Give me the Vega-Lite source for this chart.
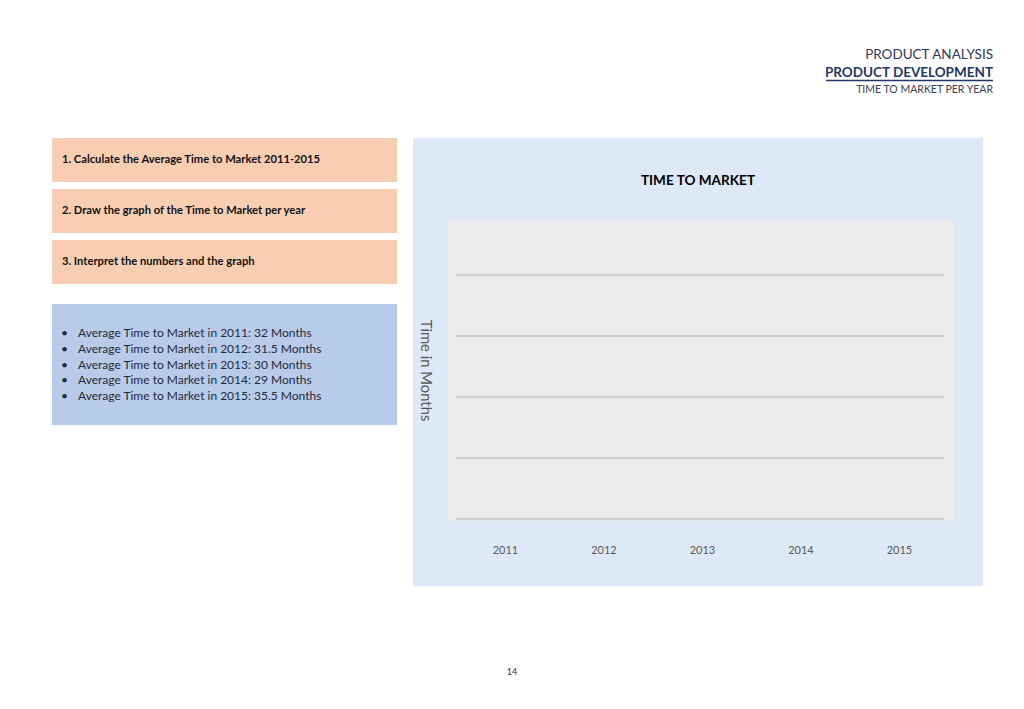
{
  "$schema": "https://vega.github.io/schema/vega-lite/v6.json",
  "background": "white",
  "padding": {"left": 52, "top": 35, "right": 10, "bottom": 5},
  "config": {"view": {"stroke": null}, "font": "Lato"},
  "datasets": {
    "header": [
      {"level": 1, "line": "PRODUCT ANALYSIS"},
      {"level": 2, "line": "PRODUCT DEVELOPMENT"},
      {"level": 3, "line": "TIME TO MARKET PER YEAR"}
    ],
    "tasks": [
      {"task": "1. Calculate the Average Time to Market 2011-2015"},
      {"task": "2. Draw the graph of the Time to Market per year"},
      {"task": "3. Interpret the numbers and the graph"}
    ],
    "ttm": [
      {"year": 2011, "months": 32, "label": "Average Time to Market in 2011: 32 Months"},
      {"year": 2012, "months": 31.5, "label": "Average Time to Market in 2012: 31.5 Months"},
      {"year": 2013, "months": 30, "label": "Average Time to Market in 2013: 30 Months"},
      {"year": 2014, "months": 29, "label": "Average Time to Market in 2014: 29 Months"},
      {"year": 2015, "months": 35.5, "label": "Average Time to Market in 2015: 35.5 Months"}
    ],
    "gridlines": [{"tick": 0}, {"tick": 10}, {"tick": 20}, {"tick": 30}, {"tick": 40}],
    "page": [{"page": "14"}],
    "frame": [{"part": "plot background"}]
  },
  "spacing": 31,
  "vconcat": [
    {
      "width": 941,
      "height": 72,
      "data": {"name": "header"},
      "layer": [
        {
          "transform": [{"filter": "datum.level == 1"}],
          "mark": {"type": "text", "align": "right", "baseline": "middle", "fontSize": 13.5, "color": "#2f3a56"},
          "encoding": {
            "x": {"datum": 941, "type": "quantitative", "scale": {"domain": [0, 941], "nice": false}, "axis": null},
            "y": {"datum": 19.5, "type": "quantitative", "scale": {"domain": [0, 72], "nice": false, "reverse": true}, "axis": null},
            "text": {"field": "line"}
          }
        },
        {
          "transform": [{"filter": "datum.level == 2"}],
          "mark": {"type": "text", "align": "right", "baseline": "middle", "fontSize": 13.5, "fontWeight": "bold", "color": "#1f3864"},
          "encoding": {
            "x": {"datum": 941, "type": "quantitative"},
            "y": {"datum": 38, "type": "quantitative"},
            "text": {"field": "line"}
          }
        },
        {
          "transform": [{"filter": "datum.level == 2"}],
          "mark": {"type": "rule", "color": "#1f3864", "strokeWidth": 1.5},
          "encoding": {
            "x": {"datum": 774, "type": "quantitative"},
            "x2": {"datum": 941},
            "y": {"datum": 45.5, "type": "quantitative"}
          }
        },
        {
          "transform": [{"filter": "datum.level == 3"}],
          "mark": {"type": "text", "align": "right", "baseline": "middle", "fontSize": 10.5, "color": "#3a4255"},
          "encoding": {
            "x": {"datum": 941, "type": "quantitative"},
            "y": {"datum": 55, "type": "quantitative"},
            "text": {"field": "line"}
          }
        }
      ]
    },
    {
      "spacing": 16,
      "hconcat": [
        {
          "spacing": 20,
          "vconcat": [
            {
              "width": 345,
              "height": 146,
              "data": {"name": "tasks"},
              "encoding": {
                "y": {"field": "task", "type": "nominal", "sort": null, "scale": {"paddingInner": 0.137, "paddingOuter": 0}, "axis": null}
              },
              "layer": [
                {
                  "mark": {"type": "bar", "color": "#f8ceb2"},
                  "encoding": {
                    "x": {"datum": 0, "type": "quantitative", "scale": {"domain": [0, 1], "nice": false}, "axis": null},
                    "x2": {"datum": 1}
                  }
                },
                {
                  "mark": {"type": "text", "align": "left", "baseline": "middle", "dx": 10, "fontSize": 11.2, "fontWeight": "bold", "color": "#111111"},
                  "encoding": {
                    "x": {"datum": 0, "type": "quantitative"},
                    "text": {"field": "task"}
                  }
                }
              ]
            },
            {
              "width": 345,
              "height": 121,
              "view": {"fill": "#b9cbea", "stroke": null},
              "data": {"name": "ttm"},
              "encoding": {
                "y": {"field": "year", "type": "quantitative", "scale": {"domain": [2009.159, 2016.841], "nice": false, "zero": false, "reverse": true}, "axis": null},
                "x": {"datum": 0, "type": "quantitative", "scale": {"domain": [0, 1], "nice": false}, "axis": null}
              },
              "layer": [
                {
                  "mark": {"type": "text", "align": "left", "baseline": "middle", "dx": 9, "fontSize": 12, "color": "#222a38"},
                  "encoding": {"text": {"value": "•"}}
                },
                {
                  "mark": {"type": "text", "align": "left", "baseline": "middle", "dx": 26, "fontSize": 12, "color": "#222a38"},
                  "encoding": {"text": {"field": "label"}}
                }
              ]
            }
          ]
        },
        {
          "width": 570,
          "height": 448,
          "view": {"fill": "#dde9f6", "stroke": null},
          "title": {"text": "TIME TO MARKET", "fontSize": 13.6, "fontWeight": "bold", "color": "#000000", "offset": -50},
          "layer": [
            {
              "data": {"name": "frame"},
              "mark": {"type": "rect", "color": "#ebebeb"},
              "encoding": {
                "x": {
                  "datum": 2010.411, "type": "quantitative",
                  "scale": {"domain": [2010.066, 2015.853], "nice": false, "zero": false},
                  "axis": {"values": [2011, 2012, 2013, 2014, 2015], "format": "d", "title": null, "grid": false, "ticks": false, "domain": false, "offset": -44, "labelPadding": 2, "labelFontSize": 11, "labelColor": "#595959", "labelFlush": false, "zindex": 1}
                },
                "x2": {"datum": 2015.558},
                "y": {
                  "datum": 49.02, "type": "quantitative",
                  "scale": {"domain": [-10.98, 62.46], "nice": false, "zero": false},
                  "axis": {"values": [0], "labels": false, "ticks": false, "domain": false, "grid": false, "offset": -24, "title": "Time in Months", "titleAngle": 90, "titleFontSize": 14.8, "titleFontWeight": "normal", "titleColor": "#595959", "titlePadding": 20, "titleY": 232, "zindex": 1}
                },
                "y2": {"datum": -0.33}
              }
            },
            {
              "data": {"name": "gridlines"},
              "mark": {"type": "rule", "color": "#c6c6c6", "strokeWidth": 1.3},
              "encoding": {
                "y": {"field": "tick", "type": "quantitative"},
                "x": {"datum": 2010.5, "type": "quantitative"},
                "x2": {"datum": 2015.457}
              }
            }
          ]
        }
      ]
    },
    {
      "width": 920,
      "height": 110,
      "data": {"name": "page"},
      "mark": {"type": "text", "fontSize": 9, "color": "#333333", "baseline": "middle"},
      "encoding": {"text": {"field": "page"}}
    }
  ]
}
